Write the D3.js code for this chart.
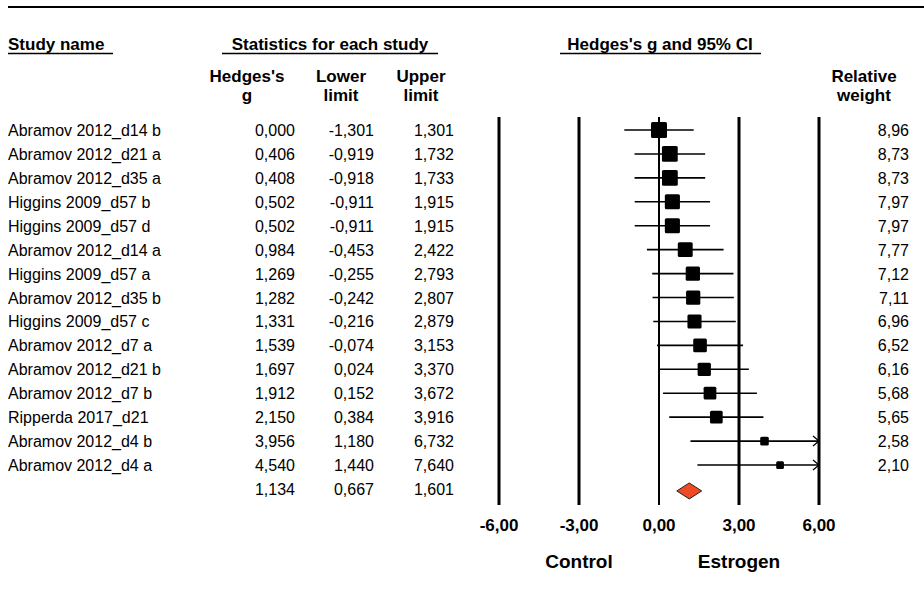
<!DOCTYPE html>
<html>
<head>
<meta charset="utf-8">
<title>Forest plot</title>
<script src="https://cdn.jsdelivr.net/npm/d3@7"></script>
<style>
    html, body { margin: 0; padding: 0; background: #fff; }
    svg { font-family: 'Liberation Sans', Arial, sans-serif; }
    .hdr { font-weight: bold; font-size: 17px; }
    .cell { font-size: 16px; }
</style>
</head>
<body>
<svg id="chart" width="924" height="598"></svg>
<script>
// study rows
var studies = ["Abramov 2012_d14 b", "Abramov 2012_d21 a", "Abramov 2012_d35 a", "Higgins 2009_d57 b",
    "Higgins 2009_d57 d", "Abramov 2012_d14 a", "Higgins 2009_d57 a", "Abramov 2012_d35 b",
    "Higgins 2009_d57 c", "Abramov 2012_d7 a", "Abramov 2012_d21 b", "Abramov 2012_d7 b",
    "Ripperda 2017_d21", "Abramov 2012_d4 b", "Abramov 2012_d4 a"];
var hedgesG = [0.000, 0.406, 0.408, 0.502, 0.502, 0.984, 1.269, 1.282, 1.331, 1.539, 1.697, 1.912, 2.150, 3.956, 4.540];
var lowerLimit = [-1.301, -0.919, -0.918, -0.911, -0.911, -0.453, -0.255, -0.242, -0.216, -0.074, 0.024, 0.152, 0.384, 1.180, 1.440];
var upperLimit = [1.301, 1.732, 1.733, 1.915, 1.915, 2.422, 2.793, 2.807, 2.879, 3.153, 3.370, 3.672, 3.916, 6.732, 7.640];
var relWeight = [8.96, 8.73, 8.73, 7.97, 7.97, 7.77, 7.12, 7.11, 6.96, 6.52, 6.16, 5.68, 5.65, 2.58, 2.10];

// pooled estimate
var summary = { g: 1.134, lower: 0.667, upper: 1.601 };

var axisTicks = [-6, -3, 0, 3, 6];
var sideLabels = ["Control", "Estrogen"];

var svg = d3.select("#chart");
var fmt3 = function (v) { return d3.format(".3f")(v).replace("−", "-").replace(".", ","); };
var fmt2 = function (v) { return d3.format(".2f")(v).replace("−", "-").replace(".", ","); };

var x = d3.scaleLinear().domain([-6, 6]).range([499, 819]);
var y = d3.scalePoint().domain(d3.range(studies.length + 1)).range([130, 130 + 23.93 * studies.length]);
var boxSize = d3.scaleSqrt().domain([0, 8.96]).range([0, 16]);

// top rule
svg.append("line").attr("x1", 8).attr("x2", 924).attr("y1", 7).attr("y2", 7)
    .attr("stroke", "#000").attr("stroke-width", 2.2);

// headers
function underlined(txt, cx, anchor, x1, x2) {
    svg.append("text").attr("class", "hdr").attr("x", cx).attr("y", 50)
        .attr("text-anchor", anchor).text(txt);
    svg.append("line").attr("x1", x1).attr("x2", x2).attr("y1", 53.5).attr("y2", 53.5)
        .attr("stroke", "#000").attr("stroke-width", 1.5);
}
underlined("Study name", 8, "start", 8, 113);
underlined("Statistics for each study", 330, "middle", 222, 438);
underlined("Hedges's g and 95% CI", 660, "middle", 560, 761);

function twoLine(l1, l2, cx) {
    var t = svg.append("text").attr("class", "hdr").attr("text-anchor", "middle");
    t.append("tspan").attr("x", cx).attr("y", 82).text(l1);
    t.append("tspan").attr("x", cx).attr("y", 101).text(l2);
}
twoLine("Hedges's", "g", 247);
twoLine("Lower", "limit", 341);
twoLine("Upper", "limit", 421);
twoLine("Relative", "weight", 864);

// table text
var rows = svg.append("g");
studies.forEach(function (s, i) {
    var yy = y(i) + 6;
    rows.append("text").attr("class", "cell").attr("x", 8).attr("y", yy).text(s);
    rows.append("text").attr("class", "cell").attr("x", 295).attr("y", yy).attr("text-anchor", "end").text(fmt3(hedgesG[i]));
    rows.append("text").attr("class", "cell").attr("x", 374).attr("y", yy).attr("text-anchor", "end").text(fmt3(lowerLimit[i]));
    rows.append("text").attr("class", "cell").attr("x", 454).attr("y", yy).attr("text-anchor", "end").text(fmt3(upperLimit[i]));
    rows.append("text").attr("class", "cell").attr("x", 909).attr("y", yy).attr("text-anchor", "end").text(fmt2(relWeight[i]));
});
var ySum = y(studies.length) + 6;
rows.append("text").attr("class", "cell").attr("x", 295).attr("y", ySum).attr("text-anchor", "end").text(fmt3(summary.g));
rows.append("text").attr("class", "cell").attr("x", 374).attr("y", ySum).attr("text-anchor", "end").text(fmt3(summary.lower));
rows.append("text").attr("class", "cell").attr("x", 454).attr("y", ySum).attr("text-anchor", "end").text(fmt3(summary.upper));

// vertical reference lines
svg.append("g").selectAll("line").data(axisTicks).join("line")
    .attr("x1", function (d) { return x(d); }).attr("x2", function (d) { return x(d); })
    .attr("y1", 117).attr("y2", 505)
    .attr("stroke", "#000").attr("stroke-width", function (d) { return d === 0 ? 2 : 3; });

// tick labels
svg.append("g").selectAll("text").data(axisTicks).join("text")
    .attr("x", function (d) { return x(d); }).attr("y", 531)
    .attr("text-anchor", "middle").attr("font-weight", "bold").attr("font-size", 17)
    .text(function (d) { return fmt2(d); });

svg.append("text").attr("x", x(-3)).attr("y", 568).attr("text-anchor", "middle")
    .attr("font-weight", "bold").attr("font-size", 19).text(sideLabels[0]);
svg.append("text").attr("x", x(3)).attr("y", 568).attr("text-anchor", "middle")
    .attr("font-weight", "bold").attr("font-size", 19).text(sideLabels[1]);

// CI lines, arrows and boxes
var plot = svg.append("g");
studies.forEach(function (s, i) {
    var yy = y(i);
    var lo = Math.max(lowerLimit[i], -6), hi = Math.min(upperLimit[i], 6);
    plot.append("line").attr("x1", x(lo)).attr("x2", x(hi)).attr("y1", yy).attr("y2", yy)
        .attr("stroke", "#000").attr("stroke-width", 1.6);
    if (upperLimit[i] > 6) {
        plot.append("path")
            .attr("d", "M" + (x(6) - 6) + "," + (yy - 5) + "L" + x(6) + "," + yy + "L" + (x(6) - 6) + "," + (yy + 5))
            .attr("fill", "none").attr("stroke", "#000").attr("stroke-width", 1.3);
    }
    var b = boxSize(relWeight[i]);
    plot.append("rect").attr("x", x(hedgesG[i]) - b / 2).attr("y", yy - b / 2)
        .attr("width", b).attr("height", b).attr("rx", 1.5).attr("fill", "#000");
});

// summary diamond
var yd = y(studies.length) + 2;
plot.append("path")
    .attr("d", "M" + x(summary.lower) + "," + yd + "L" + x(summary.g) + "," + (yd - 8) +
        "L" + x(summary.upper) + "," + yd + "L" + x(summary.g) + "," + (yd + 8) + "Z")
    .attr("fill", "#F04A24").attr("stroke", "#222").attr("stroke-width", 1);
</script>
</body>
</html>
